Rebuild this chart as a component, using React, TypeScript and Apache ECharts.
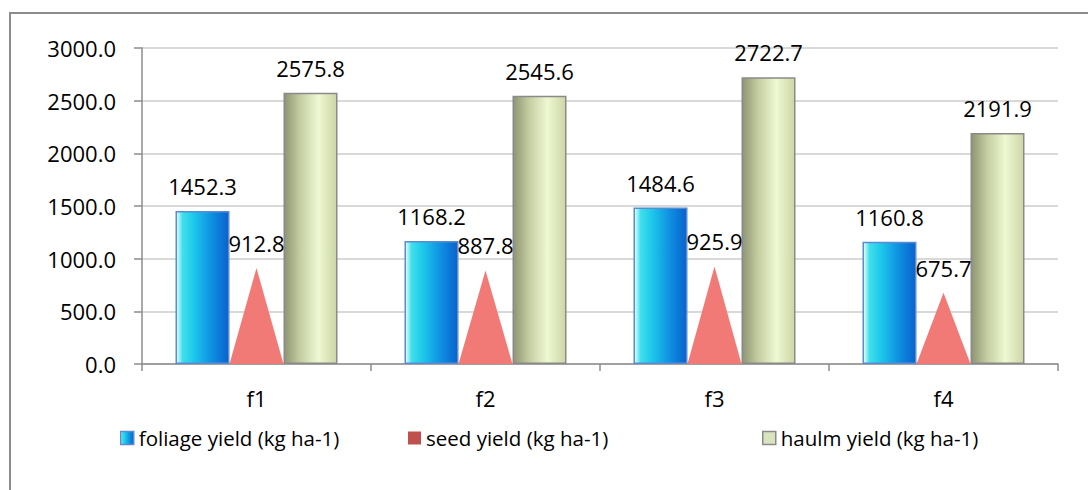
import React, { useEffect, useRef } from "react";
import * as echarts from "echarts";

const categories = ["f1", "f2", "f3", "f4"];
const foliageYield = [1452.3, 1168.2, 1484.6, 1160.8];
const seedYield = [912.8, 887.8, 925.9, 675.7];
const haulmYield = [2575.8, 2545.6, 2722.7, 2191.9];
const seriesNames = ["foliage yield (kg ha-1)", "seed yield (kg ha-1)", "haulm yield (kg ha-1)"];

const FONT = "'Open Sans', 'Noto Sans', sans-serif";

export default function App() {
  const ref = useRef<HTMLDivElement>(null);
  useEffect(() => {
    if (!ref.current) return;
    const chart = echarts.init(ref.current, undefined, { renderer: "svg" });
    const foliageGrad = new echarts.graphic.LinearGradient(0, 0, 1, 0, [
      { offset: 0, color: "#F0FFFF" },
      { offset: 0.12, color: "#3EE0EC" },
      { offset: 0.35, color: "#1CC6EA" },
      { offset: 0.7, color: "#0E8CE0" },
      { offset: 1, color: "#0A62CC" },
    ]);
    const haulmGrad = new echarts.graphic.LinearGradient(0, 0, 1, 0, [
      { offset: 0, color: "#8E9474" },
      { offset: 0.3, color: "#C4CDA0" },
      { offset: 0.65, color: "#EEF8D2" },
      { offset: 1, color: "#CCD5A6" },
    ]);
    const labelCommon = {
      show: true,
      position: "top" as const,
      distance: 14,
      fontFamily: FONT,
      fontSize: 22,
      color: "#000",
      formatter: (p: any) => Number(p.value).toFixed(1),
    };
    const legendCommon = {
      top: 426,
      padding: 0,
      itemWidth: 13,
      itemHeight: 13,
      icon: "rect",
      textStyle: { fontFamily: FONT, fontSize: 20.5, color: "#000", lineHeight: 24 },
      selectedMode: false as const,
    };
    chart.setOption({
      animation: false,
      backgroundColor: "#fff",
      grid: { left: 142, right: 30, top: 48, bottom: 126, containLabel: false },
      graphic: [
        {
          type: "rect",
          shape: { x: 10, y: 13, width: 1100, height: 520 },
          style: { fill: "none", stroke: "#8C8C8C", lineWidth: 2 },
          silent: true,
        },
      ],
      legend: [
        {
          ...legendCommon,
          left: 120,
          data: [{ name: seriesNames[0], itemStyle: { color: foliageGrad, borderColor: "#5B8BD0", borderWidth: 1.5 } }],
        },
        {
          ...legendCommon,
          left: 408,
          data: [{ name: seriesNames[1], itemStyle: { color: "#C0504D", borderWidth: 0 } }],
        },
        {
          ...legendCommon,
          left: 762,
          data: [{ name: seriesNames[2], itemStyle: { color: "#D7E4BD", borderColor: "#8A8A8A", borderWidth: 1.5 } }],
        },
      ],
      xAxis: {
        type: "category",
        data: categories,
        axisLine: { lineStyle: { color: "#8C8C8C", width: 1.5 } },
        axisTick: { show: true, length: 7, lineStyle: { color: "#8C8C8C", width: 1.5 } },
        axisLabel: { fontFamily: FONT, fontSize: 22, color: "#000", margin: 23 },
      },
      yAxis: {
        type: "value",
        min: 0,
        max: 3000,
        interval: 500,
        axisLine: { show: true, lineStyle: { color: "#8C8C8C", width: 1.5 } },
        axisTick: { show: true, length: 8, lineStyle: { color: "#8C8C8C", width: 1.5 } },
        axisLabel: {
          fontFamily: FONT,
          fontSize: 22,
          color: "#000",
          margin: 26,
          formatter: (v: number) => v.toFixed(1),
        },
        splitLine: { lineStyle: { color: "#D9D9D9", width: 2 } },
      },
      series: [
        {
          name: seriesNames[0],
          type: "bar",
          barWidth: 54,
          barGap: "0%",
          data: foliageYield,
          itemStyle: { color: foliageGrad, borderColor: "#5B8BD0", borderWidth: 1.5 },
          label: labelCommon,
          z: 3,
        },
        {
          name: "_slot",
          type: "bar",
          barWidth: 54,
          barGap: "0%",
          data: categories.map(() => "-"),
          silent: true,
        },
        {
          name: seriesNames[2],
          type: "bar",
          barWidth: 54,
          barGap: "0%",
          data: haulmYield,
          itemStyle: { color: haulmGrad, borderColor: "#8A8A8A", borderWidth: 1.5 },
          label: labelCommon,
          z: 3,
        },
        {
          name: seriesNames[1],
          type: "pictorialBar",
          symbol: "triangle",
          symbolSize: ["100%", "100%"],
          barWidth: 54,
          data: seedYield,
          itemStyle: { color: "#F27A76" },
          label: labelCommon,
          z: 4,
        },
      ],
    });
    return () => chart.dispose();
  }, []);
  return (
    <div
      ref={ref}
      style={{ position: "absolute", left: 0, top: 0, width: 1088, height: 490 }}
    />
  );
}
